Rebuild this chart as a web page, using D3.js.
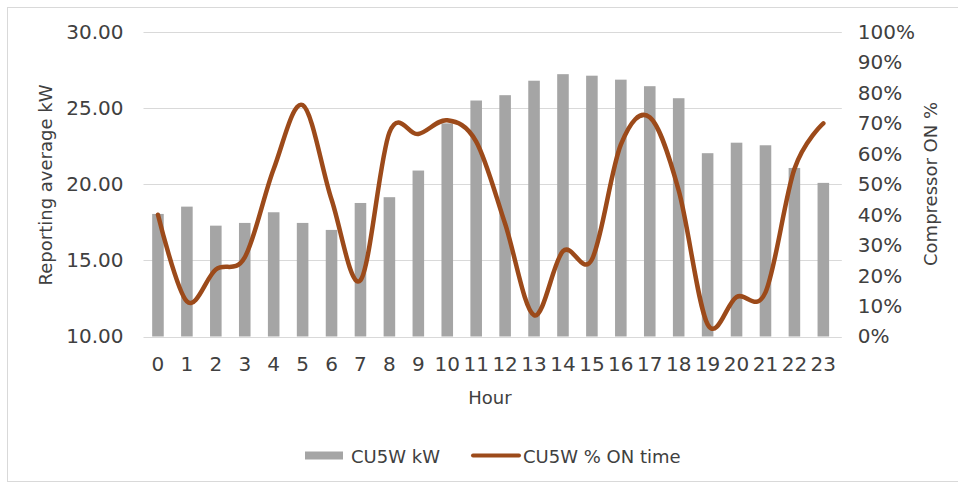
<!DOCTYPE html>
<html>
<head>
<meta charset="utf-8">
<script src="https://cdn.jsdelivr.net/npm/d3@7"></script>
<style>
  html, body { margin: 0; padding: 0; background: #fff; }
  svg { display: block; font-family: "DejaVu Sans", sans-serif; }
</style>
</head>
<body>
<svg id="chart" width="958" height="483"></svg>
<script>
// Hourly compressor data
const hours = ["0","1","2","3","4","5","6","7","8","9","10","11","12","13","14","15","16","17","18","19","20","21","22","23"];
const kwValues = [18.05, 18.53, 17.28, 17.46, 18.16, 17.46, 17.0, 18.77, 19.15, 20.9, 24.0, 25.5,
                  25.85, 26.8, 27.23, 27.13, 26.87, 26.44, 25.65, 22.04, 22.73, 22.56, 21.07, 20.09];
const onPct = [40, 11.5, 22, 26, 55, 76, 45, 18.5, 67, 66.5, 71, 64,
               37, 7, 28, 25.3, 63, 72, 48, 4, 13, 14.5, 55, 70];
const kwTicks = [10, 15, 20, 25, 30];
const pctTicks = [0, 10, 20, 30, 40, 50, 60, 70, 80, 90, 100];
const seriesNames = ["CU5W kW", "CU5W % ON time"];

const barColor = "#a5a5a5";
const lineColor = "#9c4a1a";
const textColor = "#404040";
const gridColor = "#d9d9d9";

const svg = d3.select("#chart");

// outer chart border
svg.append("rect")
  .attr("x", 7.5).attr("y", 7.5)
  .attr("width", 958).attr("height", 474)
  .attr("fill", "#fff").attr("stroke", gridColor).attr("stroke-width", 1);

const plot = { left: 143.5, right: 837.8, top: 32, bottom: 336.5 };

const x = d3.scaleBand().domain(hours).range([plot.left, plot.right]).paddingInner(0).paddingOuter(0);
const yKw = d3.scaleLinear().domain([10, 30]).range([plot.bottom, plot.top]);
const yPct = d3.scaleLinear().domain([0, 100]).range([plot.bottom, plot.top]);

// gridlines
svg.append("g")
  .selectAll("line")
  .data(kwTicks)
  .join("line")
  .attr("x1", plot.left).attr("x2", plot.right + 4)
  .attr("y1", d => Math.round(yKw(d)) + 0.5)
  .attr("y2", d => Math.round(yKw(d)) + 0.5)
  .attr("stroke", gridColor).attr("stroke-width", 1);

// bars
const barW = x.bandwidth() / 2.5;
svg.append("g")
  .selectAll("rect")
  .data(kwValues)
  .join("rect")
  .attr("x", (d, i) => x(hours[i]) + (x.bandwidth() - barW) / 2)
  .attr("y", d => yKw(d))
  .attr("width", barW)
  .attr("height", d => yKw(10) - yKw(d))
  .attr("fill", barColor);

// smoothed ON-time line
const line = d3.line()
  .x((d, i) => x(hours[i]) + x.bandwidth() / 2)
  .y(d => yPct(d))
  .curve(d3.curveCardinal.tension(0));

svg.append("path")
  .datum(onPct)
  .attr("d", line)
  .attr("fill", "none")
  .attr("stroke", lineColor)
  .attr("stroke-width", 4.5)
  .attr("stroke-linejoin", "round")
  .attr("stroke-linecap", "round");

// left axis
const leftAxis = svg.append("g")
  .attr("transform", `translate(${plot.left},0)`)
  .call(d3.axisLeft(yKw).tickValues(kwTicks).tickFormat(d3.format(".2f")).tickSize(0).tickPadding(20));
leftAxis.select(".domain").remove();
leftAxis.selectAll("text")
  .attr("fill", textColor).style("font-size", "20px").style("font-family", "DejaVu Sans, sans-serif");

// right axis
const rightAxis = svg.append("g")
  .attr("transform", `translate(${plot.right},0)`)
  .call(d3.axisRight(yPct).tickValues(pctTicks).tickFormat(d => d + "%").tickSize(0).tickPadding(20));
rightAxis.select(".domain").remove();
rightAxis.selectAll("text")
  .attr("fill", textColor).style("font-size", "20px").style("font-family", "DejaVu Sans, sans-serif");

// bottom axis
const bottomAxis = svg.append("g")
  .attr("transform", `translate(0,${plot.bottom})`)
  .call(d3.axisBottom(x).tickSize(0).tickPadding(20));
bottomAxis.select(".domain").remove();
bottomAxis.selectAll("text")
  .attr("fill", textColor).style("font-size", "20px").style("font-family", "DejaVu Sans, sans-serif");

// axis titles
svg.append("text")
  .attr("transform", "translate(52,185) rotate(-90)")
  .attr("text-anchor", "middle")
  .attr("fill", textColor).style("font-size", "18px")
  .text("Reporting average kW");

svg.append("text")
  .attr("transform", "translate(937,184) rotate(-90)")
  .attr("text-anchor", "middle")
  .attr("fill", textColor).style("font-size", "18px")
  .text("Compressor ON %");

svg.append("text")
  .attr("x", 490).attr("y", 404)
  .attr("text-anchor", "middle")
  .attr("fill", textColor).style("font-size", "18px")
  .text("Hour");

// legend
const legend = svg.append("g");
legend.append("rect")
  .attr("x", 305).attr("y", 451.5).attr("width", 38).attr("height", 8)
  .attr("fill", barColor);
legend.append("text")
  .attr("x", 351).attr("y", 462.5)
  .attr("fill", textColor).style("font-size", "18px")
  .text(seriesNames[0]);
legend.append("line")
  .attr("x1", 473).attr("x2", 519).attr("y1", 455.5).attr("y2", 455.5)
  .attr("stroke", lineColor).attr("stroke-width", 4).attr("stroke-linecap", "round");
legend.append("text")
  .attr("x", 523).attr("y", 462.5)
  .attr("fill", textColor).style("font-size", "18px")
  .text(seriesNames[1]);
</script>
</body>
</html>
